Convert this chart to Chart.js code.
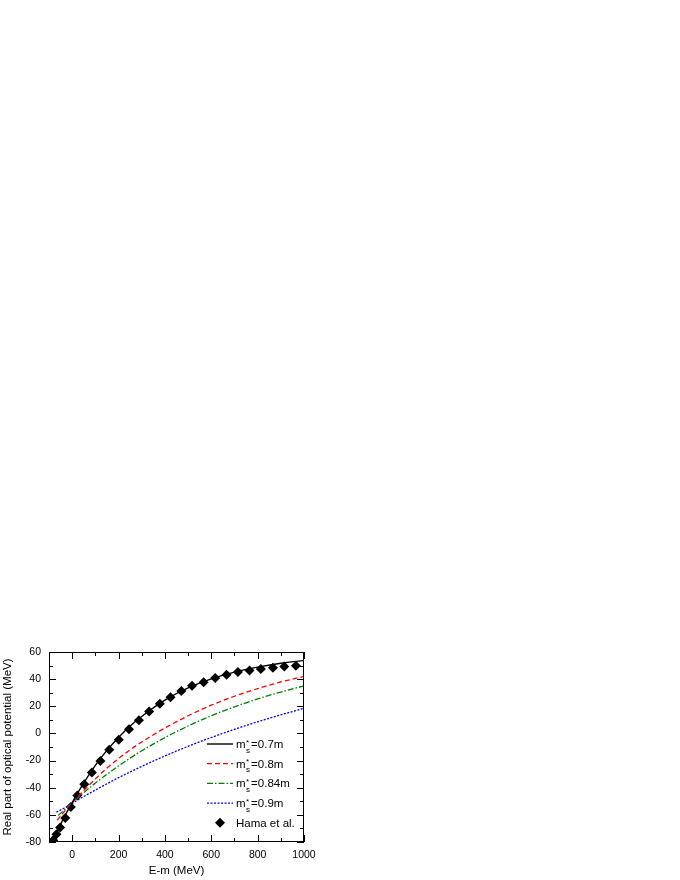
<!DOCTYPE html>
<html>
<head>
<meta charset="utf-8">
<script src="https://cdn.jsdelivr.net/npm/chart.js@4.4.1/dist/chart.umd.min.js"></script>
<style>
  html, body { margin: 0; padding: 0; background: #ffffff; }
  #wrap { position: absolute; left: 0; top: 0; width: 680px; height: 880px; }
</style>
</head>
<body>
<div id="wrap"><canvas id="c" width="680" height="880"></canvas></div>
<script>
// ---- data ----
const xTickValues = [0, 200, 400, 600, 800, 1000];
const yTickValues = [-80, -60, -40, -20, 0, 20, 40, 60];

const seriesNames = ["0.7m", "0.8m", "0.84m", "0.9m"];
const dataLabel = "Hama et al.";

const x07 = [-90, -50, 0, 50, 100, 150, 200, 250, 300, 400, 500, 600, 700, 800, 900, 1000];
const y07 = [-83, -67, -51, -36.5, -23.5, -12.5, -3, 5.5, 12.5, 24.5, 33.5, 40.2, 45.2, 48.9, 51.7, 53.8];

const x08 = [-65, -30, 0, 50, 100, 150, 200, 250, 300, 400, 500, 600, 700, 800, 900, 1000];
const y08 = [-64, -56.7, -51, -42, -33.5, -25.5, -18.5, -12, -6.3, 4, 13, 20.8, 27.4, 33, 37.9, 42];

const x084 = [-60, -30, 0, 50, 100, 150, 200, 250, 300, 400, 500, 600, 700, 800, 900, 1000];
const y084 = [-60.5, -55.7, -51, -43.6, -36.6, -30.1, -23.9, -18.2, -12.8, -3.1, 5.5, 13, 19.6, 25.4, 30.5, 35];

const x09 = [-68, -30, 0, 50, 100, 150, 200, 250, 300, 400, 500, 600, 700, 800, 900, 1000];
const y09 = [-58, -54.6, -51.5, -46.5, -41.7, -37.1, -32.6, -28.4, -24.3, -16.6, -9.5, -3, 3, 8.6, 13.7, 18.5];

const xHama = [-82, -68, -52, -30, -6, 22, 52, 85, 122, 160, 201, 245, 288, 332, 378, 424, 471, 517, 567, 617, 666, 715, 765, 814, 866, 915, 965];
const yHama = [-78.8, -74.3, -69.4, -62.3, -54.2, -45.7, -37.4, -28.7, -20.4, -12, -4.6, 3.1, 9.7, 16.1, 21.8, 26.7, 31.2, 35.1, 37.8, 40.8, 43.2, 45.2, 46.4, 47.4, 48.4, 49.4, 49.9];

function pts(xs, ys) { return xs.map((x, i) => ({ x: x, y: ys[i] })); }

const FONT = "'Liberation Sans', Arial, sans-serif";

const lineStyles = [
  { color: "#000000", dash: [], width: 1.4 },
  { color: "#ff0000", dash: [5, 3], width: 1.3 },
  { color: "#008000", dash: [6, 2, 1.5, 2], width: 1.3 },
  { color: "#0000ff", dash: [2, 1.5], width: 1.3 }
];
const curveX = [x07, x08, x084, x09];
const curveY = [y07, y08, y084, y09];

const datasets = seriesNames.map((name, i) => ({
  label: name,
  data: pts(curveX[i], curveY[i]),
  showLine: true,
  borderColor: lineStyles[i].color,
  borderWidth: lineStyles[i].width,
  borderDash: lineStyles[i].dash,
  pointRadius: 0,
  cubicInterpolationMode: "monotone",
  fill: false
}));
datasets.push({
  label: dataLabel,
  data: pts(xHama, yHama),
  showLine: false,
  pointStyle: "rectRot",
  pointRadius: 5,
  backgroundColor: "#000000",
  borderColor: "#000000",
  borderWidth: 0
});

// frame, inward ticks (major + minor) on all four sides
const framePlugin = {
  id: "frameTicks",
  afterDraw(chart) {
    const ctx = chart.ctx, a = chart.chartArea;
    const xs = chart.scales.x, ys = chart.scales.y;
    ctx.save();
    ctx.strokeStyle = "#000";
    ctx.lineWidth = 1;
    ctx.setLineDash([]);
    ctx.strokeRect(Math.round(a.left) + 0.5, Math.round(a.top) + 0.5,
                   Math.round(a.right - a.left) - 1, Math.round(a.bottom - a.top) - 1);
    ctx.beginPath();
    for (let v = xs.min; v <= xs.max; v += 100) {
      const len = (v % 200 === 0) ? 7 : 4;
      const px = Math.round(xs.getPixelForValue(v)) + 0.5;
      ctx.moveTo(px, a.bottom); ctx.lineTo(px, a.bottom - len);
      ctx.moveTo(px, a.top); ctx.lineTo(px, a.top + len);
    }
    for (let v = ys.min; v <= ys.max; v += 10) {
      const len = (v % 20 === 0) ? 7 : 4;
      const py = Math.round(ys.getPixelForValue(v)) + 0.5;
      ctx.moveTo(a.left, py); ctx.lineTo(a.left + len, py);
      ctx.moveTo(a.right, py); ctx.lineTo(a.right - len, py);
    }
    ctx.stroke();
    ctx.restore();
  }
};

// legend with m*_s notation
const legendPlugin = {
  id: "subLegend",
  afterDraw(chart) {
    const ctx = chart.ctx, a = chart.chartArea;
    const lx0 = a.left + 158, lx1 = a.left + 184, tx = a.left + 187;
    const rowY0 = a.top + 92, rowH = 19.7;
    ctx.save();
    ctx.textBaseline = "alphabetic";
    ctx.fillStyle = "#000";
    seriesNames.forEach((name, i) => {
      const y = rowY0 + i * rowH;
      const st = lineStyles[i];
      ctx.strokeStyle = st.color;
      ctx.lineWidth = st.width;
      ctx.setLineDash(st.dash);
      ctx.beginPath();
      ctx.moveTo(lx0, y); ctx.lineTo(lx1, y);
      ctx.stroke();
      ctx.setLineDash([]);
      ctx.font = "11.5px " + FONT;
      ctx.fillText("m", tx, y + 4);
      const mw = ctx.measureText("m").width;
      ctx.font = "8px " + FONT;
      ctx.fillText("*", tx + mw + 0.5, y + 0.5);
      ctx.fillText("s", tx + mw + 0.5, y + 8.5);
      const sw = ctx.measureText("s").width;
      ctx.font = "11.5px " + FONT;
      ctx.fillText("=" + name, tx + mw + sw + 1.5, y + 4);
    });
    const yh = rowY0 + 4 * rowH;
    const cx = (lx0 + lx1) / 2, r = 5;
    ctx.beginPath();
    ctx.moveTo(cx, yh - r); ctx.lineTo(cx + r, yh); ctx.lineTo(cx, yh + r); ctx.lineTo(cx - r, yh);
    ctx.closePath();
    ctx.fill();
    ctx.font = "11.5px " + FONT;
    ctx.fillText(dataLabel, tx, yh + 4);
    ctx.restore();
  }
};

new Chart(document.getElementById("c"), {
  type: "scatter",
  data: { datasets: datasets },
  options: {
    responsive: false,
    animation: false,
    layout: { padding: { left: 0, top: 652, right: 376, bottom: 0 } },
    plugins: { legend: { display: false }, tooltip: { enabled: false } },
    scales: {
      x: {
        type: "linear",
        min: -100, max: 1000,
        afterBuildTicks(s) { s.ticks = xTickValues.map(v => ({ value: v })); },
        afterFit(s) { s.height = 38; },
        grid: { display: false, drawTicks: false, tickLength: 0 },
        border: { display: false },
        ticks: { color: "#000", padding: 7, maxRotation: 0, autoSkip: false,
                 callback: v => String(v),
                 font: { family: FONT, size: 10.5 } },
        title: { display: true, text: "E-m (MeV)", color: "#000",
                 padding: { top: 0, bottom: 2 }, font: { family: FONT, size: 11.5 } }
      },
      y: {
        type: "linear",
        min: -80, max: 60,
        afterBuildTicks(s) { s.ticks = yTickValues.map(v => ({ value: v })); },
        afterFit(s) { s.width = 49; },
        grid: { display: false, drawTicks: false, tickLength: 0 },
        border: { display: false },
        ticks: { color: "#000", padding: 8, autoSkip: false,
                 callback: v => String(v),
                 font: { family: FONT, size: 10.5 } },
        title: { display: true, text: "Real part of optical potential (MeV)", color: "#000",
                 padding: { top: 1, bottom: 0 }, font: { family: FONT, size: 11.5 } }
      }
    }
  },
  plugins: [framePlugin, legendPlugin]
});
</script>
</body>
</html>
